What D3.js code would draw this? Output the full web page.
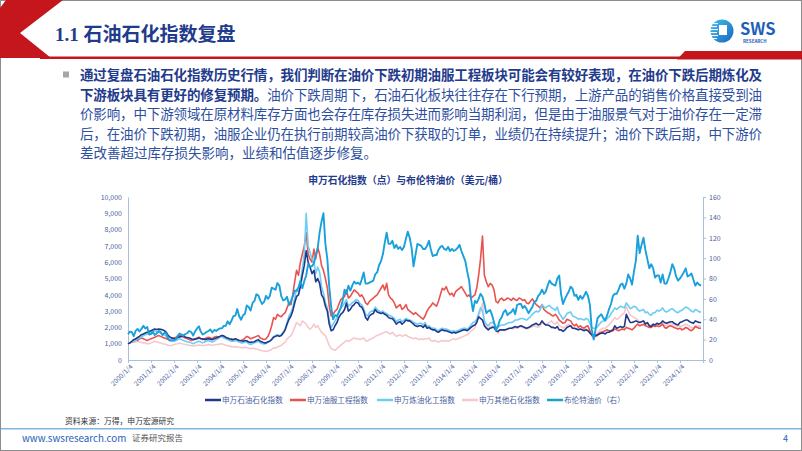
<!DOCTYPE html>
<html><head><meta charset="utf-8">
<script src="https://cdn.jsdelivr.net/npm/d3@7"></script>
<style>
body{margin:0;background:#fff}
svg{display:block}
text{font-family:"Noto Sans CJK SC","Noto Sans",sans-serif}
</style>
</head><body>
<svg id="c" width="802" height="451"></svg>
<script>
// ---------- data (monthly, 2000/01 .. 2024/12) ----------
const startYear = 2000;
const tickYears = d3.range(2000, 2025);
const leftTicks = [0,1000,2000,3000,4000,5000,6000,7000,8000,9000,10000];
const rightTicks = [0,20,40,60,80,100,120,140,160];
const seriesNames = ["申万石油石化指数","申万油服工程指数","申万炼油化工指数","申万其他石化指数","布伦特油价（右）"];

const petro = [ // 申万石油石化指数
1000,1050,1150,1250,1300,1380,1450,1550,1600,1650,1700,1750,
1800,1850,1900,1870,1900,1880,1850,1800,1700,1500,1400,1350,
1300,1320,1380,1420,1450,1500,1400,1380,1350,1300,1250,1280,
1300,1350,1320,1300,1250,1280,1300,1280,1250,1300,1350,1400,
1450,1500,1480,1400,1350,1300,1280,1250,1300,1250,1200,1180,
1150,1200,1180,1100,1080,1100,1120,1200,1250,1150,1100,1050,
1050,1120,1150,1250,1400,1450,1500,1450,1500,1650,1850,2200,
2500,2700,3000,3500,3900,4000,4500,5200,5800,6700,6000,5700,
5300,5500,4800,5000,4700,4000,3800,3300,3000,2200,1800,1850,
2100,2300,2600,2800,2900,3100,3500,3000,3100,3300,3400,3550,
3500,3300,3250,3000,2600,2450,2700,2800,2850,3100,2950,2900,
2850,2900,2800,2750,2600,2550,2550,2400,2200,2300,2350,2200,
2300,2450,2400,2400,2300,2200,2100,2050,2100,2100,2000,2150,
1950,2000,1900,1850,1850,1750,1700,1800,1850,1800,1800,1750,
1700,1650,1700,1650,1700,1750,1800,1850,1850,1800,1900,2000,
2100,2150,2300,2650,2550,2450,2100,1950,1850,1950,2000,2000,
1800,1750,1850,1850,1850,1850,1900,1950,1950,2000,2050,2000,
2050,2100,2050,2000,1950,2000,2050,2150,2200,2250,2150,2200,
2400,2250,2150,2150,2100,2000,2000,1950,2050,1850,1850,1750,
1850,2000,2050,2100,1950,1950,1900,1850,1900,1850,1800,1850,
1800,1650,1550,1550,1500,1550,1600,1650,1650,1600,1700,1700,
1800,1850,2100,1950,2000,2050,2000,2050,2800,2550,2300,2300,
2350,2400,2350,2300,2350,2400,2200,2300,2100,2050,2200,2150,
2250,2200,2250,2400,2300,2250,2300,2350,2350,2250,2200,2150,
2300,2350,2400,2450,2450,2350,2300,2250,2400,2350,2300,2300];

const oilService = [ // 申万油服工程指数
1000,1050,1100,1150,1250,1200,1300,1350,1300,1250,1200,1250,
1300,1350,1400,1450,1500,1450,1400,1350,1300,1250,1200,1300,
1350,1400,1450,1500,1450,1400,1350,1300,1250,1200,1250,1300,
1350,1400,1300,1250,1300,1350,1400,1350,1300,1400,1450,1400,
1450,1500,1400,1350,1300,1250,1200,1250,1300,1250,1200,1200,
1250,1350,1450,1400,1300,1350,1400,1450,1500,1350,1300,1250,
1300,1450,1700,2100,2600,2500,2800,2700,2650,2800,2900,3200,
3500,3400,4000,4800,5500,5200,6000,6500,7000,7800,6500,6200,
6000,6800,6200,6900,6500,5800,5500,5000,4400,3300,2700,2800,
3000,3100,3400,3700,3800,3900,4300,3800,3900,4100,4300,4200,
4100,3900,4000,3800,3500,3400,3600,3700,3800,3900,4000,4200,
4400,4600,4300,4700,4000,3800,3700,3500,3200,3300,3400,3100,
3200,3400,3100,3000,2900,2800,2900,2800,2700,2600,2500,2700,
3000,3200,3300,3500,3400,3300,3600,4000,4400,4300,4500,4200,
4000,4100,3900,4200,4300,4400,4500,4300,4100,3900,4000,3800,
3900,4000,4400,5200,6200,7600,5200,4800,4500,4700,4600,4300,
3600,3500,3700,3800,3650,3700,3800,3750,3650,3800,3700,3650,
3800,3750,3650,3700,3500,3450,3600,3750,3550,3400,3300,3200,
3400,3100,3000,2900,2850,2750,2700,2800,2650,2450,2350,2250,
2300,2500,2450,2400,2200,2100,2200,2000,2100,2000,1950,2050,
2100,1800,1500,1400,1450,1500,1650,1700,1750,1800,1850,1800,
1750,1800,1900,1850,1800,1850,1900,1850,2000,1950,1900,1850,
1950,2100,2200,2100,2150,2200,2100,2050,2000,2000,2100,2050,
2100,2050,2100,2200,2000,1950,2050,2100,2050,2000,1950,1900,
1950,1850,1900,2000,1950,1850,1800,1900,2050,2000,1950,1950];

const refining = [ // 申万炼油化工指数
1000,1050,1100,1150,1200,1300,1350,1400,1500,1550,1600,1650,
1700,1750,1800,1750,1700,1650,1600,1550,1450,1350,1250,1200,
1150,1200,1250,1300,1250,1200,1150,1100,1100,1050,1000,1050,
1100,1150,1100,1050,1100,1150,1200,1150,1100,1150,1250,1300,
1400,1450,1350,1300,1250,1200,1150,1150,1200,1150,1100,1050,
1050,1100,1100,1000,950,1000,1050,1100,1150,1050,1000,980,
1000,1100,1150,1300,1450,1500,1550,1500,1550,1700,1900,2300,
2700,2900,3200,3800,4300,4200,4800,5600,6500,9000,7000,6600,
6200,6000,5300,5700,5400,4500,4100,3500,3200,2400,2000,2200,
2400,2600,2900,3200,3300,3500,3700,3300,3400,3500,3600,3700,
3650,3450,3400,3150,2800,2700,2900,3000,3000,3250,3100,3000,
2950,3000,2900,2850,2750,2700,2650,2550,2350,2450,2500,2350,
2450,2550,2500,2450,2400,2300,2250,2200,2250,2250,2150,2300,
2050,2100,2000,1950,1950,1850,1800,1900,1950,1900,1900,1850,
1800,1750,1800,1750,1800,1850,1900,1950,1950,1900,2000,2150,
2300,2350,2500,2850,3200,3000,2400,2200,2100,2250,2300,2250,
2050,2000,2100,2150,2150,2200,2250,2300,2300,2350,2450,2450,
2500,2550,2550,2500,2450,2550,2650,2800,2900,3000,2950,3050,
3400,3250,3200,3300,3350,3200,3150,3050,3250,2850,2700,2500,
2650,2850,2900,2950,2700,2650,2600,2500,2550,2500,2450,2550,
2500,2250,2000,1950,1950,2050,2200,2350,2400,2400,2550,2650,
2850,3000,3200,3100,3200,3300,3250,3200,3500,3350,3150,3200,
3300,3250,3100,3000,3050,3100,2900,2950,2800,2750,2900,2900,
3050,3000,3050,3200,3000,2950,3000,3100,3150,3050,2950,2900,
3000,3050,3150,3250,3200,3100,3000,2950,3100,3050,2950,2950];

const otherPetro = [ // 申万其他石化指数
1000,1050,1100,1080,1100,1150,1100,1080,1050,1050,1000,1000,
1050,1100,1150,1100,1080,1050,1000,980,950,900,880,900,
950,980,1000,1050,1000,980,950,920,900,880,860,880,
900,920,900,880,900,920,950,930,900,920,950,960,
980,1000,950,900,870,850,820,800,820,800,780,760,
750,780,760,720,700,720,700,680,650,600,570,550,
520,560,600,650,750,720,800,850,900,1000,1100,1300,
1400,1500,1700,2000,2300,2200,2100,2400,2300,2200,2000,1900,
2000,2200,2000,2100,1900,1700,1600,1500,1200,900,700,650,
600,700,800,900,1000,1100,1200,1150,1200,1300,1350,1300,
1300,1250,1300,1350,1200,1150,1250,1300,1350,1450,1500,1550,
1600,1650,1700,1750,1650,1600,1700,1550,1450,1500,1550,1450,
1500,1550,1450,1400,1350,1300,1350,1300,1250,1300,1250,1300,
1300,1350,1200,1150,1200,1150,1100,1150,1200,1150,1200,1150,
1200,1250,1300,1250,1300,1350,1400,1450,1500,1550,1650,1800,
1850,2000,2300,2700,3000,3500,2300,2100,1900,2050,2100,2000,
1750,1650,1800,1850,1800,1850,1900,1950,1950,1900,2000,1950,
2000,2050,2000,1950,1900,1950,2000,2050,2100,2050,2000,2100,
2300,2200,2150,2250,2300,2400,2250,2200,2350,2100,2050,1950,
2050,2150,2200,2100,1950,1900,1950,1850,1900,1850,1850,1900,
1850,1700,1550,1500,1550,1650,1800,1900,1950,1950,2050,2150,
2300,2450,2600,2500,2550,2700,2800,2900,3300,3000,2750,2700,
2600,2550,2450,2300,2350,2400,2300,2250,2150,2100,2200,2150,
2250,2200,2250,2300,2150,2100,2200,2250,2200,2150,2100,2050,
2100,2050,2150,2200,2150,2050,2000,1950,2100,2100,2050,2100];

const brent = [ // 布伦特油价（美元/桶）
25.5,27.8,27.5,23.5,28.5,30.5,28,30.5,33.5,31,32.5,25,
25.5,27.5,24.5,26,28.5,27.5,24.5,26.5,26,20.5,19,19,
19.5,20.5,24,26,25,24,25.5,26.5,28.5,27.5,24,28,
31,33,28,25,26,27.5,28.5,30,27,29.5,28.5,30,
31,31,33.5,33.5,38,35,38.5,43,43.5,50,43,39.5,
44,45.5,53.5,52,48.5,56,58,64.5,63.5,58.5,55,57,
63,60,62.5,71,70,69,75.5,73,62.5,58.5,59.5,62,
54,58,62.5,68,68,71.5,77.5,70.5,77.5,83,94,92,
92,95,103,110,125,136,144,114,99,72,52,40,
44,43,47,51,58,69,65,73,68,73,77,75,
76,74,79,86,75,75,76,77,78,84,86,93,
97,104,115,125,114,114,117,110,113,109,111,108,
111,119,126,120,110,92,103,114,113,112,109,109,
112,117,109,102,103,103,108,111,112,109,108,111,
107,109,107,108,110,113,107,102,97,87,78,60,
48,58,56,60,65,62,55,46,48,49,44,37,
29,33,39,42,47,49,44,46,47,50,45,54,
55,55,51,53,50,46,49,52,57,58,63,65,
69,65,67,73,78,75,74,73,80,83,64,55,
60,64,67,72,70,63,64,59,63,60,63,67,
63,54,30,20,30,41,43,45,41,39,44,50,
55,63,65,65,69,74,75,70,75,84,80,74,
87,98,122,105,113,120,108,99,90,94,90,81,
83,83,76,84,75,75,80,86,94,90,82,78,
80,83,86,90,82,83,85,79,73,76,74,73];

const textLines = [
  [{t:"通过复盘石油石化指数历史行情，我们判断在油价下跌初期油服工程板块可能会有较好表现，在油价下跌后期炼化及", b:true}],
  [{t:"下游板块具有更好的修复预期。", b:true},{t:"油价下跌周期下，石油石化板块往往存在下行预期，上游产品的销售价格直接受到油", b:false}],
  [{t:"价影响，中下游领域在原材料库存方面也会存在库存损失进而影响当期利润，但是由于油服景气对于油价存在一定滞", b:false}],
  [{t:"后，在油价下跌初期，油服企业仍在执行前期较高油价下获取的订单，业绩仍在持续提升；油价下跌后期，中下游价", b:false}],
  [{t:"差改善超过库存损失影响，业绩和估值逐步修复。", b:false}]
];

// ---------- drawing ----------
const svg = d3.select("#c");
const RED = "#c5161d", NAVY_T = "#1f3b8c", BLUE_T = "#2e4f9f";

// slide border
svg.append("rect").attr("x",0.5).attr("y",0.5).attr("width",801).attr("height",450)
  .attr("fill","#fff").attr("stroke","#8c8c8c");

// header shapes
svg.append("polygon").attr("points","0,8 6,0 63,0 20,33 51,58 0,58").attr("fill",RED);
svg.append("rect").attr("x",40).attr("y",56.5).attr("width",762).attr("height",2.5).attr("fill",RED);
svg.append("polygon").attr("points","677,59.5 685,51 802,51 802,59.5").attr("fill",RED);

// title
const title = svg.append("text").attr("x",55).attr("y",41).attr("fill",NAVY_T)
  .attr("font-size",19).attr("font-weight","bold");
title.append("tspan").attr("font-family","Liberation Serif, serif").text("1.1 ");
title.append("tspan").text("石油石化指数复盘");

// logo
const defs = svg.append("defs");
const lg = defs.append("linearGradient").attr("id","lg").attr("x1","0").attr("y1","0").attr("x2","1").attr("y2","1");
lg.append("stop").attr("offset","0").attr("stop-color","#3fc0f2");
lg.append("stop").attr("offset","1").attr("stop-color","#1d64bd");
svg.append("circle").attr("cx",722).attr("cy",31).attr("r",11.5).attr("fill","url(#lg)");
[23,26,29,32,35,38].forEach((yy,i)=>{
  svg.append("rect").attr("x",710).attr("y",yy).attr("width",8-(i%2)).attr("height",1.1).attr("fill","#fff");
});
svg.append("rect").attr("x",719).attr("y",25).attr("width",8).attr("height",10).attr("fill","#fff");
svg.append("text").attr("x",740).attr("y",34.5).attr("font-family","Liberation Sans, Arial, sans-serif")
  .attr("font-weight","bold").attr("font-size",16.5).attr("fill","#1f5fb8").text("SWS");
svg.append("text").attr("x",743).attr("y",43).attr("font-family","Liberation Sans, Arial, sans-serif")
  .attr("font-weight","bold").attr("font-size",4.5).attr("fill","#1f5fb8").text("RESEARCH");

// bullet + paragraph
svg.append("rect").attr("x",63).attr("y",71.5).attr("width",6).attr("height",6).attr("fill","#a6a6a6");
const baseY = [80, 99.5, 119, 138.5, 157.5];
textLines.forEach((parts,i)=>{
  const t = svg.append("text").attr("x",80).attr("y",baseY[i]).attr("font-size",13.5);
  if (i < 4) t.attr("textLength",682).attr("lengthAdjust","spacing");
  parts.forEach(p=>{
    t.append("tspan").attr("font-weight",p.b?"bold":"normal").attr("fill",p.b?NAVY_T:BLUE_T).text(p.t);
  });
});

// chart
const x = d3.scaleTime().domain([new Date(2000,0,4), new Date(2025,0,4)]).range([128,703]);
const yL = d3.scaleLinear().domain([0,10000]).range([360,197]);
const yR = d3.scaleLinear().domain([0,160]).range([360,197]);
const dates = petro.map((_,i)=>d3.timeMonth.offset(new Date(startYear,0,4), i));

svg.append("text").attr("x",408).attr("y",184).attr("text-anchor","middle")
  .attr("font-size",9.8).attr("font-weight","bold").attr("fill",NAVY_T)
  .text("申万石化指数（点）与布伦特油价（美元/桶）");

const AX = "#a9c0dc", LBL = "#4a629e";
const gx = svg.append("g").attr("transform","translate(0,360)")
  .call(d3.axisBottom(x).tickValues(tickYears.map(y=>new Date(y,0,4))).tickSize(3)
    .tickFormat(d=>d.getFullYear()+"/1/4"));
gx.selectAll("text").attr("transform","rotate(-45)").attr("text-anchor","end")
  .attr("dx","-0.3em").attr("dy","0.35em").attr("font-size",6.6).attr("fill",LBL)
  .attr("font-family","Liberation Sans, Arial, sans-serif");
const gl = svg.append("g").attr("transform","translate(128,0)")
  .call(d3.axisLeft(yL).tickValues(leftTicks).tickSize(0).tickPadding(6).tickFormat(d3.format(",")));
gl.selectAll("text").attr("font-size",7).attr("fill",LBL).attr("font-family","Liberation Sans, Arial, sans-serif");
const gr = svg.append("g").attr("transform","translate(703,0)")
  .call(d3.axisRight(yR).tickValues(rightTicks).tickSize(3).tickPadding(3));
gr.selectAll("text").attr("font-size",7).attr("fill",LBL).attr("font-family","Liberation Sans, Arial, sans-serif");
[gx,gl,gr].forEach(g=>{ g.select(".domain").attr("stroke",AX); g.selectAll(".tick line").attr("stroke",AX); });

const colors = ["#1f3a8a","#e8534f","#6dcdf5","#f6c8cc","#1aa0db"];
const widths = [1.6,1.6,1.6,1.6,1.9];
const lineL = d3.line().x((d,i)=>x(dates[i])).y(d=>yL(d));
const lineR = d3.line().x((d,i)=>x(dates[i])).y(d=>yR(d));
const order = [[otherPetro,3,lineL],[oilService,1,lineL],[refining,2,lineL],[petro,0,lineL],[brent,4,lineR]];
order.forEach(([arr,ci,gen])=>{
  svg.append("path").attr("d",gen(arr)).attr("fill","none").attr("stroke",colors[ci])
    .attr("stroke-width",widths[ci]).attr("stroke-linejoin","round");
});

// legend
const legX = [205,290,377,462,547];
seriesNames.forEach((n,i)=>{
  svg.append("line").attr("x1",legX[i]).attr("x2",legX[i]+16).attr("y1",400).attr("y2",400)
    .attr("stroke", i===4?"#17a3c6":colors[i]).attr("stroke-width",2.5);
  svg.append("text").attr("x",legX[i]+17).attr("y",402.8).attr("font-size",7.6).attr("fill",LBL).text(n);
});

// footer
svg.append("text").attr("x",65).attr("y",423.5).attr("font-size",7.8).attr("fill","#333").text("资料来源：万得，申万宏源研究");
svg.append("rect").attr("x",1).attr("y",428).attr("width",800).attr("height",1.5).attr("fill","#7fb6e0");
svg.append("text").attr("x",22).attr("y",441.5).attr("font-size",9.8).attr("fill","#1f5fb8")
  .attr("font-family","Liberation Sans, Arial, sans-serif").text("www.swsresearch.com");
svg.append("text").attr("x",132).attr("y",441).attr("font-size",8.5).attr("fill","#555").text("证券研究报告");
svg.append("text").attr("x",783).attr("y",441.5).attr("font-size",9).attr("fill","#1f5fb8")
  .attr("font-family","Liberation Sans, Arial, sans-serif").text("4");
</script>
</body></html>
